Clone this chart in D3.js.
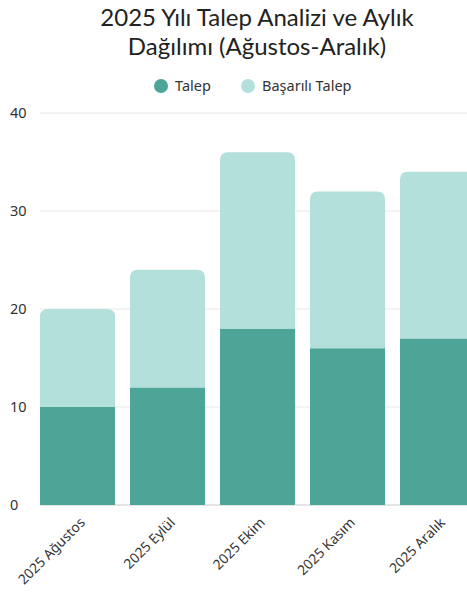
<!DOCTYPE html>
<html><head><meta charset="utf-8">
<script src="https://cdn.jsdelivr.net/npm/d3@7"></script>
<style>body{margin:0;background:#fff;} svg{display:block;}</style>
</head><body>
<svg id="c" width="467" height="595"></svg>
<script>
const categories = ["2025 Ağustos","2025 Eylül","2025 Ekim","2025 Kasım","2025 Aralık"];
const talep = [10,12,18,16,17];
const basarili = [10,12,18,16,17];
const seriesNames = ["Talep","Başarılı Talep"];
const yTicks = [0,10,20,30,40];
const titleLines = ["2025 Yılı Talep Analizi ve Aylık","Dağılımı (Ağustos-Aralık)"];
const colors = ["#4DA597","#B3E0DA"];
const font = "'Noto Sans', 'Open Sans', sans-serif";
const titleFont = "Lato, 'Noto Sans', sans-serif";

const svg = d3.select("#c");
const W = 467, H = 595;
const x = d3.scaleBand().domain(categories).range([40,475]).paddingInner(1/6).paddingOuter(0);
const y = d3.scaleLinear().domain([0,40]).range([505,113]);

// title
svg.append("g").selectAll("text").data(titleLines).join("text")
  .attr("text-anchor","middle").attr("font-family",titleFont)
  .attr("font-size",24).attr("fill","#222")
  .attr("x",257).attr("y",(d,i)=>26+i*28.6).text(d=>d);

// legend
const leg = [{n:seriesNames[0],c:colors[0],cx:161,tx:175},{n:seriesNames[1],c:colors[1],cx:248,tx:262}];
leg.forEach(l=>{
  svg.append("circle").attr("cx",l.cx).attr("cy",86).attr("r",7).attr("fill",l.c);
  svg.append("text").attr("x",l.tx).attr("y",91).attr("font-family",font).attr("font-size",14.5)
    .attr("fill","#333").text(l.n);
});

// grid
svg.append("g").selectAll("line").data(yTicks).join("line")
  .attr("x1",40).attr("x2",W).attr("y1",d=>y(d)).attr("y2",d=>y(d))
  .attr("stroke",d=>d===0?"#cccccc":"#e8e8e8").attr("stroke-width",1);
svg.append("g").selectAll("text").data(yTicks).join("text")
  .attr("x",10).attr("y",d=>y(d)+5).attr("font-family",font).attr("font-size",14.5)
  .attr("fill","#333").text(d=>d);

// bars
const data = categories.map((c,i)=>({c, a:talep[i], b:basarili[i]}));
const bw = x.bandwidth();
const r = 8;
svg.append("g").selectAll("rect").data(data).join("rect")
  .attr("x",d=>x(d.c)).attr("width",bw)
  .attr("y",d=>y(d.a)).attr("height",d=>y(0)-y(d.a)).attr("fill",colors[0]);
svg.append("g").selectAll("path").data(data).join("path")
  .attr("fill",colors[1])
  .attr("d",d=>{
    const x0=x(d.c), x1=x0+bw, yt=y(d.a+d.b), yb=y(d.a);
    return `M${x0},${yb}V${yt+r}Q${x0},${yt} ${x0+r},${yt}H${x1-r}Q${x1},${yt} ${x1},${yt+r}V${yb}Z`;
  });

// x labels
svg.append("g").selectAll("text").data(categories).join("text")
  .attr("transform",d=>`translate(${x(d)+bw/2+5},${520}) rotate(-45)`)
  .attr("text-anchor","end").attr("dy","0.35em")
  .attr("font-family",font).attr("font-size",13.8).attr("fill","#333").text(d=>d);
</script>
</body></html>
